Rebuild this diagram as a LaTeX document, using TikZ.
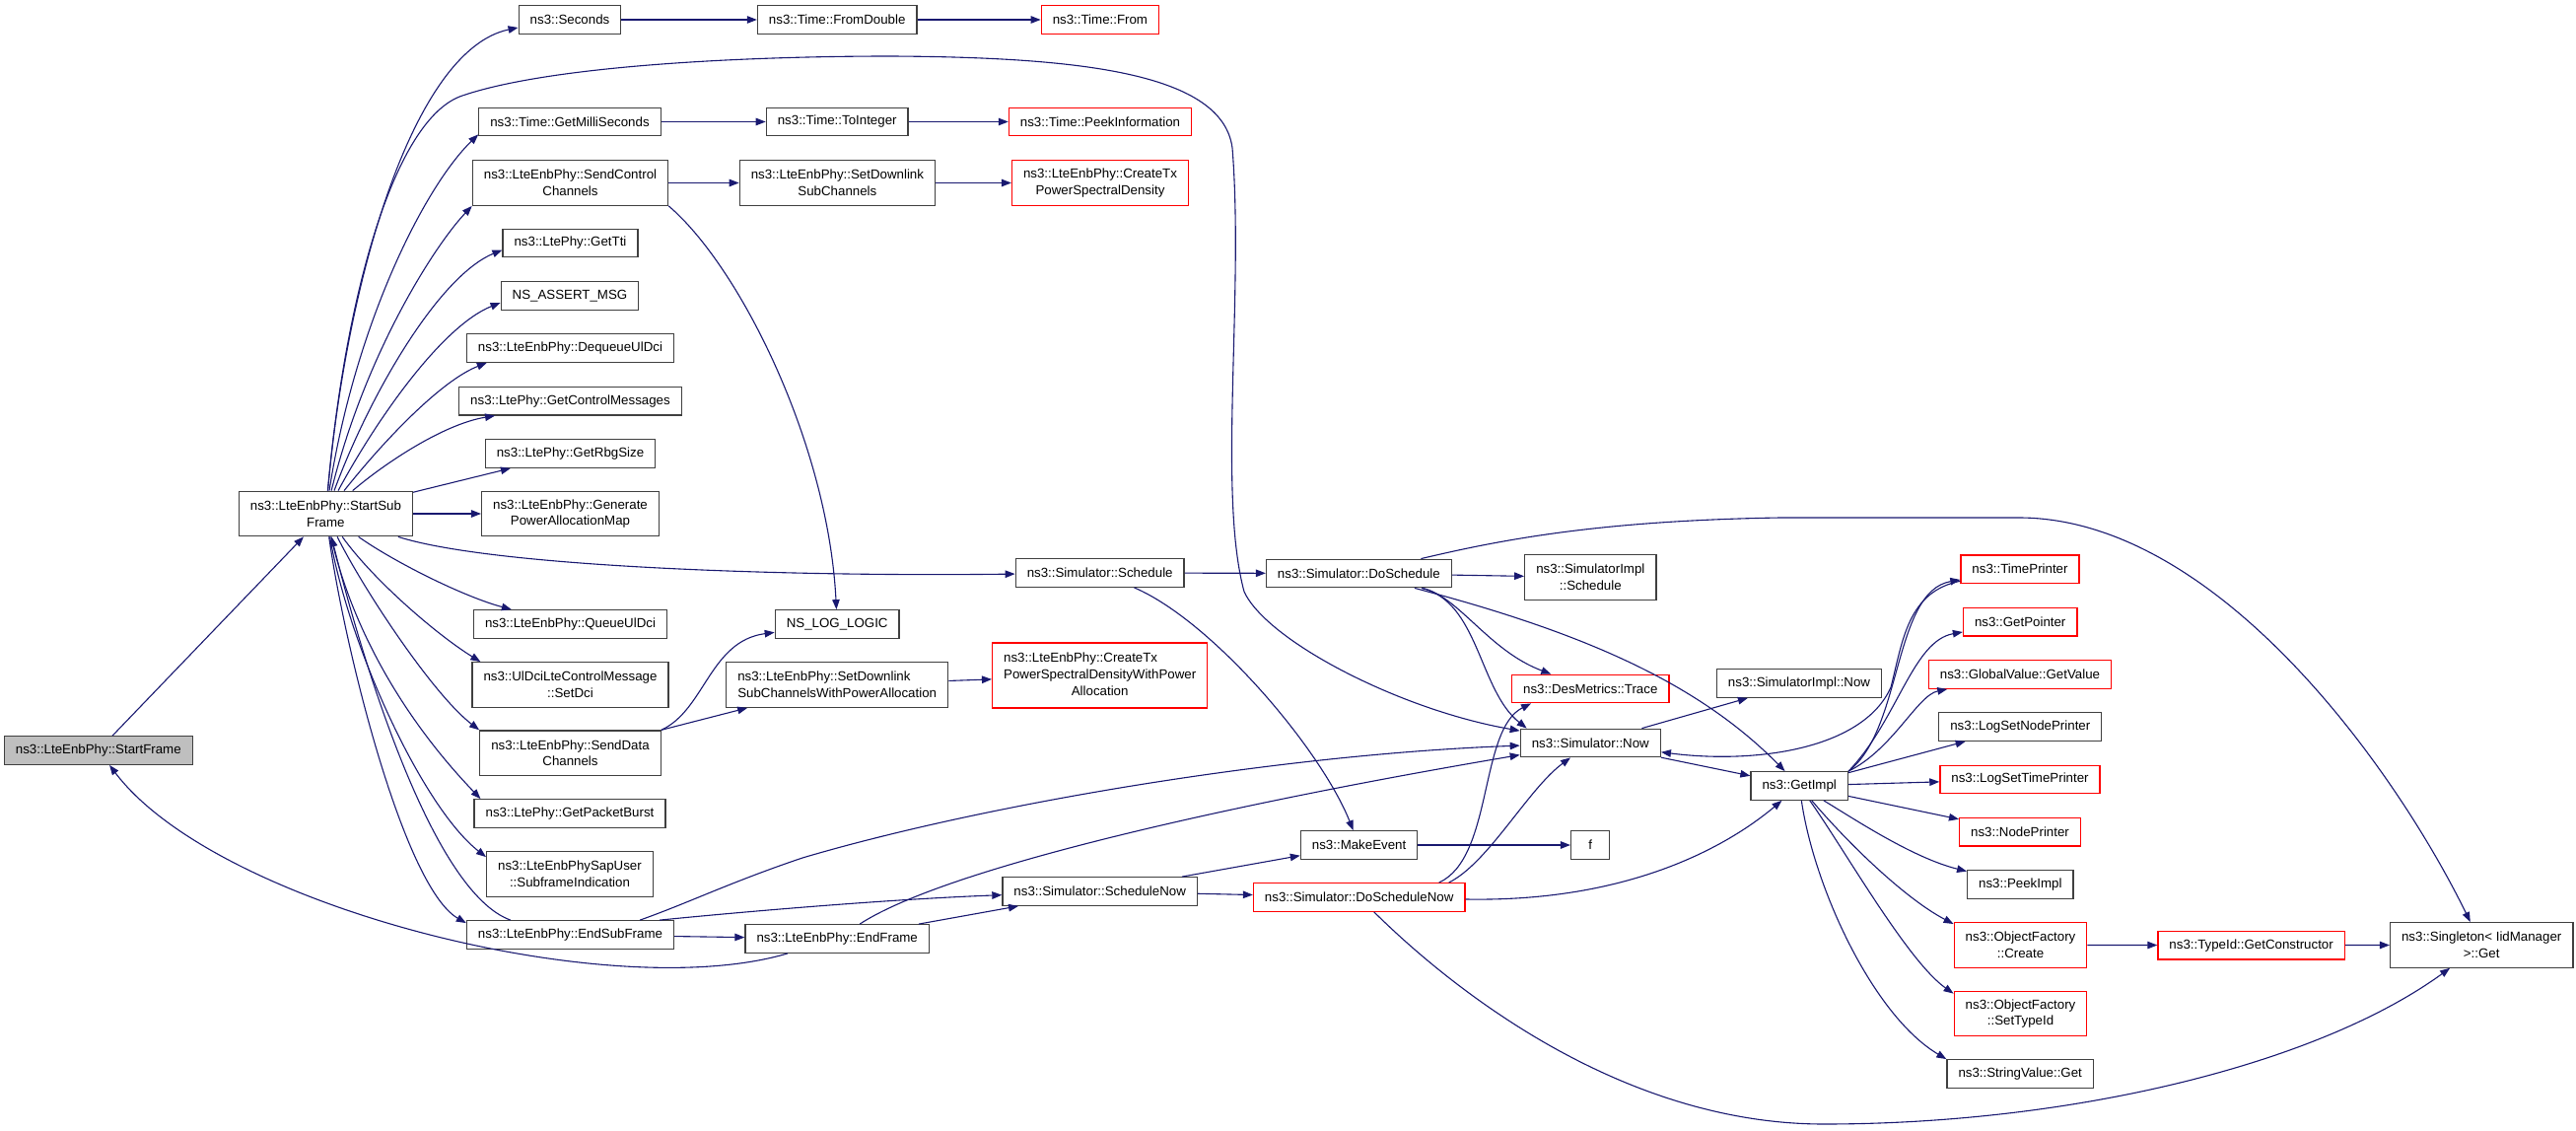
\documentclass[tikz,border=0pt]{standalone}
\usepackage{fontspec}
\setmainfont{Liberation Sans}
\usetikzlibrary{arrows.meta}

\definecolor{kante}{HTML}{191970}
\definecolor{rahmen}{HTML}{404040}
\definecolor{rot}{HTML}{FF0000}
\definecolor{grau}{HTML}{BFBFBF}

\tikzset{
	fkt/.style={draw=rahmen, line width=1.3pt, fill=white, font=\fontsize{13.3}{16.7}\selectfont,
		inner xsep=11.5pt, inner ysep=8pt, minimum height=28.5pt, minimum width=39pt, align=center},
	fktrot/.style={fkt, draw=rot},
	zwei/.style={minimum height=45.5pt},
	aufruf/.style={draw=kante, line width=1.1pt, ->},
}

\begin{document}
\begin{tikzpicture}[x=1pt,y=-1pt]
	\useasboundingbox (0,0) rectangle (2613,1147);

	% Aufrufer
	\node[fkt, fill=grau] (StartFrame) at (99.8,761) {ns3::LteEnbPhy::StartFrame};
	\node[fkt, zwei] (StartSubFrame) at (330.4,521) {ns3::LteEnbPhy::StartSub\\Frame};

	% Spalte 2
	\node[fkt] (Seconds) at (578,20) {ns3::Seconds};
	\node[fkt] (GetMilliSeconds) at (578,123.5) {ns3::Time::GetMilliSeconds};
	\node[fkt, zwei] (SendControl) at (578.5,185.5) {ns3::LteEnbPhy::SendControl\\Channels};
	\node[fkt] (GetTti) at (578.5,246.5) {ns3::LtePhy::GetTti};
	\node[fkt] (AssertMsg) at (578,300) {NS\_ASSERT\_MSG};
	\node[fkt] (DequeueUlDci) at (578.5,353) {ns3::LteEnbPhy::DequeueUlDci};
	\node[fkt] (GetCtrlMsgs) at (578.5,406.7) {ns3::LtePhy::GetControlMessages};
	\node[fkt] (GetRbgSize) at (578.5,460) {ns3::LtePhy::GetRbgSize};
	\node[fkt, zwei] (GenPowerMap) at (578.5,521) {ns3::LteEnbPhy::Generate\\PowerAllocationMap};
	\node[fkt] (QueueUlDci) at (578.5,633) {ns3::LteEnbPhy::QueueUlDci};
	\node[fkt, zwei] (SetDci) at (578.5,694.5) {ns3::UlDciLteControlMessage\\::SetDci};
	\node[fkt, zwei] (SendData) at (578.5,763.7) {ns3::LteEnbPhy::SendData\\Channels};
	\node[fkt] (GetPacketBurst) at (578,825) {ns3::LtePhy::GetPacketBurst};
	\node[fkt, zwei] (SubframeInd) at (578,886.5) {ns3::LteEnbPhySapUser\\::SubframeIndication};
	\node[fkt] (EndSubFrame) at (578.5,948) {ns3::LteEnbPhy::EndSubFrame};

	% Spalte 3
	\node[fkt] (FromDouble) at (849.2,20) {ns3::Time::FromDouble};
	\node[fkt] (ToInteger) at (849.2,123.5) {ns3::Time::ToInteger};
	\node[fkt, zwei] (SetDlSub) at (849.4,185.5) {ns3::LteEnbPhy::SetDownlink\\SubChannels};
	\node[fkt] (LogLogic) at (849.2,633) {NS\_LOG\_LOGIC};
	\node[fkt, zwei, align=left] (SetDlSubPower) at (849.2,694.5) {ns3::LteEnbPhy::SetDownlink\\SubChannelsWithPowerAllocation};
	\node[fkt] (EndFrame) at (849.2,952) {ns3::LteEnbPhy::EndFrame};

	% Spalte 4
	\node[fktrot] (TimeFrom) at (1115.9,20) {ns3::Time::From};
	\node[fktrot] (PeekInfo) at (1116,123.5) {ns3::Time::PeekInformation};
	\node[fktrot, zwei] (CreateTxPsd) at (1116,185.5) {ns3::LteEnbPhy::CreateTx\\PowerSpectralDensity};
	\node[fkt] (Schedule) at (1115.7,581) {ns3::Simulator::Schedule};
	\node[fktrot, minimum height=63.4pt] (CreateTxPsdPower) at (1115.7,685)
		{\begin{tabular}{@{}l@{}}ns3::LteEnbPhy::CreateTx\\PowerSpectralDensityWithPower\\\multicolumn{1}{@{}c@{}}{Allocation}\end{tabular}};
	\node[fkt] (ScheduleNow) at (1115.7,904) {ns3::Simulator::ScheduleNow};

	% Spalte 5 und 6
	\node[fkt] (DoSchedule) at (1378.4,581.5) {ns3::Simulator::DoSchedule};
	\node[fkt] (MakeEvent) at (1378.6,857) {ns3::MakeEvent};
	\node[fktrot] (DoScheduleNow) at (1378.7,910) {ns3::Simulator::DoScheduleNow};
	\node[fkt, zwei] (ImplSchedule) at (1613.3,585.5) {ns3::SimulatorImpl\\::Schedule};
	\node[fktrot] (DesTrace) at (1613.3,698.5) {ns3::DesMetrics::Trace};
	\node[fkt] (SimNow) at (1613.3,753.5) {ns3::Simulator::Now};
	\node[fkt] (FuncF) at (1613.1,857) {f};

	% Spalte 7
	\node[fkt] (ImplNow) at (1825,693) {ns3::SimulatorImpl::Now};
	\node[fkt] (GetImpl) at (1825.2,797) {ns3::GetImpl};

	% Spalte 8
	\node[fktrot] (TimePrinter) at (2049,577.2) {ns3::TimePrinter};
	\node[fktrot] (GetPointer) at (2049.2,630.6) {ns3::GetPointer};
	\node[fktrot] (GlobalGetValue) at (2049,684) {ns3::GlobalValue::GetValue};
	\node[fkt] (LogNodePrinter) at (2049.3,737) {ns3::LogSetNodePrinter};
	\node[fktrot] (LogTimePrinter) at (2049,790.5) {ns3::LogSetTimePrinter};
	\node[fktrot] (NodePrinter) at (2049,843.7) {ns3::NodePrinter};
	\node[fkt] (PeekImpl) at (2049.3,897) {ns3::PeekImpl};
	\node[fktrot, zwei] (FactoryCreate) at (2049.5,958.4) {ns3::ObjectFactory\\::Create};
	\node[fktrot, zwei] (FactorySetType) at (2049.5,1028) {ns3::ObjectFactory\\::SetTypeId};
	\node[fkt] (StringGet) at (2049.2,1089) {ns3::StringValue::Get};

	% rechter Rand
	\node[fktrot] (GetConstructor) at (2283.6,958.6) {ns3::TypeId::GetConstructor};
	\node[fkt, zwei] (SingletonGet) at (2517.2,958.4) {ns3::Singleton< IidManager\\>::Get};

	\begin{scope}[>={Triangle[length=10pt,width=7.5pt]}]
		% StartFrame
		\draw[aufruf] (StartFrame) -- (StartSubFrame);

		% StartSubFrame nach oben
		\draw[aufruf] (StartSubFrame) .. controls (352,280) and (420,50) .. ([yshift=-8pt]Seconds.west);
		\draw[aufruf] (StartSubFrame) .. controls (360,330) and (430,190) .. ([yshift=2pt]GetMilliSeconds.south west);
		\draw[aufruf] (StartSubFrame) .. controls (370,360) and (440,250) .. (SendControl.south west);
		\draw[aufruf] (StartSubFrame) .. controls (375,400) and (445,280) .. ([yshift=-7pt]GetTti.west);
		\draw[aufruf] (StartSubFrame) .. controls (385,420) and (450,330) .. ([yshift=-7pt]AssertMsg.west);
		\draw[aufruf] (StartSubFrame) .. controls (395,440) and (450,385) .. ([xshift=21pt]DequeueUlDci.south west);
		\draw[aufruf] (StartSubFrame) .. controls (390,470) and (450,430) .. ([xshift=37pt]GetCtrlMsgs.south west);
		\draw[aufruf] (StartSubFrame) -- (GetRbgSize);
		\draw[aufruf] (StartSubFrame) -- (GenPowerMap);

		% StartSubFrame nach unten
		\draw[aufruf] (StartSubFrame) .. controls (400,570) and (470,605) .. ([xshift=39pt]QueueUlDci.north west);
		\draw[aufruf] (StartSubFrame) .. controls (380,590) and (445,645) .. ([xshift=9pt]SetDci.north west);
		\draw[aufruf] (StartSubFrame) .. controls (370,600) and (440,705) .. (SendData.north west);
		\draw[aufruf] (StartSubFrame) .. controls (360,650) and (420,740) .. ([xshift=7pt]GetPacketBurst.north west);
		\draw[aufruf] (StartSubFrame) .. controls (355,660) and (430,820) .. ([yshift=-6pt]SubframeInd.north west);
		\draw[aufruf] (StartSubFrame) .. controls (350,660) and (410,900) .. ([yshift=-3pt]EndSubFrame.north west);
		\draw[aufruf] ([xshift=45pt]EndSubFrame.north west) .. controls (440,905) and (370,680) .. (StartSubFrame);

		% StartSubFrame zum Simulator
		\draw[aufruf] (StartSubFrame) .. controls (500,575) and (800,585) .. (Schedule);
		\draw[aufruf] (StartSubFrame) .. controls (350,300) and (400,120) .. (469,97)
			.. controls (560,66) and (760,57) .. (903,57)
			.. controls (1100,58) and (1240,75) .. (1250,150)
			.. controls (1262,300) and (1235,500) .. (1262,600)
			.. controls (1285,650) and (1420,720) .. (SimNow);

		% Kanaele
		\draw[aufruf] (SendControl) -- (SetDlSub);
		\draw[aufruf] (SendControl.south east) .. controls (750,270) and (840,450) .. (LogLogic);
		\draw[aufruf] (SendData.north east) .. controls (715,720) and (720,650) .. (LogLogic);
		\draw[aufruf] (SendData.north east) -- (SetDlSubPower);

		% Zeit und Leistung
		\draw[aufruf] (Seconds) -- (FromDouble);
		\draw[aufruf] (FromDouble) -- (TimeFrom);
		\draw[aufruf] (GetMilliSeconds) -- (ToInteger);
		\draw[aufruf] (ToInteger) -- (PeekInfo);
		\draw[aufruf] (SetDlSub) -- (CreateTxPsd);
		\draw[aufruf] (SetDlSubPower) -- (CreateTxPsdPower);

		% EndSubFrame und EndFrame
		\draw[aufruf] (EndSubFrame) -- (EndFrame);
		\draw[aufruf] ([xshift=-35pt]EndSubFrame.north east) .. controls (700,915) and (740,895) .. (814,870)
			.. controls (1000,815) and (1300,765) .. (SimNow);
		\draw[aufruf] ([xshift=-15pt]EndSubFrame.north east) .. controls (750,925) and (900,912) .. (ScheduleNow);
		\draw[aufruf] (EndFrame) .. controls (620,1020) and (220,920) .. (StartFrame);
		\draw[aufruf] (EndFrame) .. controls (960,880) and (1250,815) .. (SimNow);
		\draw[aufruf] (EndFrame) -- (ScheduleNow);

		% Schedule
		\draw[aufruf] (Schedule) -- (DoSchedule);
		\draw[aufruf] (Schedule) .. controls (1230,630) and (1340,760) .. (MakeEvent);
		\draw[aufruf] (DoSchedule) -- (ImplSchedule);
		\draw[aufruf] (DoSchedule) .. controls (1480,605) and (1510,660) .. (DesTrace);
		\draw[aufruf] (DoSchedule) .. controls (1500,610) and (1500,700) .. ([xshift=7pt]SimNow.north west);
		\draw[aufruf] (DoSchedule) .. controls (1600,640) and (1720,690) .. (GetImpl);
		\draw[aufruf] (DoSchedule) .. controls (1520,548) and (1620,528) .. (1806,525) -- (2050,525)
			.. controls (2250,527) and (2430,780) .. (SingletonGet);

		% Simulator::Now
		\draw[aufruf] (SimNow) -- (ImplNow);
		\draw[aufruf] (SimNow) -- (GetImpl);
		\draw[aufruf] (TimePrinter) .. controls (1935,600) and (1930,650) .. (1918,697)
			.. controls (1890,760) and (1780,775) .. (SimNow);

		% ScheduleNow
		\draw[aufruf] (MakeEvent) -- (FuncF);
		\draw[aufruf] (ScheduleNow) -- (MakeEvent);
		\draw[aufruf] (ScheduleNow) -- (DoScheduleNow);
		\draw[aufruf] ([xshift=-27pt]DoScheduleNow.north east) .. controls (1515,870) and (1500,740) .. ([xshift=20pt]DesTrace.south west);
		\draw[aufruf] ([xshift=-17pt]DoScheduleNow.north east) .. controls (1510,875) and (1550,800) .. (SimNow);
		\draw[aufruf] (DoScheduleNow) .. controls (1650,915) and (1750,860) .. (GetImpl);
		\draw[aufruf] (DoScheduleNow) .. controls (1480,1010) and (1650,1140) .. (1850,1140)
			.. controls (2100,1140) and (2350,1080) .. (SingletonGet);

		% GetImpl
		\draw[aufruf] (GetImpl.north east) .. controls (1930,740) and (1920,600) .. (TimePrinter);
		\draw[aufruf] (GetImpl.north east) .. controls (1925,730) and (1940,650) .. (GetPointer);
		\draw[aufruf] (GetImpl.north east) .. controls (1920,760) and (1945,705) .. (GlobalGetValue);
		\draw[aufruf] (GetImpl) -- (LogNodePrinter);
		\draw[aufruf] (GetImpl) -- (LogTimePrinter);
		\draw[aufruf] (GetImpl) -- (NodePrinter);
		\draw[aufruf] (GetImpl) .. controls (1880,830) and (1940,870) .. (PeekImpl);
		\draw[aufruf] (GetImpl) .. controls (1870,850) and (1930,910) .. ([yshift=-2pt]FactoryCreate.north west);
		\draw[aufruf] (GetImpl) .. controls (1870,860) and (1935,975) .. ([yshift=-3pt]FactorySetType.north west);
		\draw[aufruf] (GetImpl) .. controls (1840,900) and (1900,1030) .. (StringGet.north west);
		\draw[aufruf] (FactoryCreate) -- (GetConstructor);
		\draw[aufruf] (GetConstructor) -- (SingletonGet);
	\end{scope}
\end{tikzpicture}
\end{document}
